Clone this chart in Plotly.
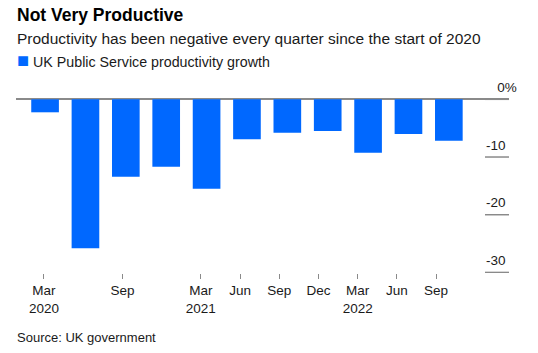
import plotly.graph_objects as go

# ---- data ----
quarters = ["Mar 2020", "Jun 2020", "Sep 2020", "Dec 2020", "Mar 2021", "Jun 2021",
            "Sep 2021", "Dec 2021", "Mar 2022", "Jun 2022", "Sep 2022"]
growth = [-2.25, -25.8, -13.4, -11.7, -15.5, -6.9, -5.8, -5.5, -9.25, -6.0, -7.2]
tick_quarters = ["Mar 2020", "Sep 2020", "Mar 2021", "Jun 2021", "Sep 2021",
                 "Dec 2021", "Mar 2022", "Jun 2022", "Sep 2022"]
tick_labels = ["Mar<br>2020", "Sep", "Mar<br>2021", "Jun", "Sep", "Dec",
               "Mar<br>2022", "Jun", "Sep"]
y_ticks = [0, -10, -20, -30]
y_tick_labels = ["\u00a0\u00a0\u00a00%", "-10", "-20", "-30"]

series_name = "UK Public Service productivity growth"
title = "Not Very Productive"
subtitle = "Productivity has been negative every quarter since the start of 2020"
source = "Source: UK government"

# ---- style ----
W, H = 538, 353
ML, MR, MT, MB = 16, 29, 70, 80
BLUE = "#0068ff"
GREY = "#8a8a8a"
FONT = "Liberation Sans, Arial, sans-serif"
TXT = "#1a1a1a"
Y_RANGE = [-30.1, 5.08]
TICK_LEN = 24

plot_w = W - ML - MR
plot_h = H - MT - MB


def py(p):
    """pixel y from top -> paper y"""
    return (H - MB - p) / plot_h


idx = list(range(len(quarters)))
tickvals = [quarters.index(q) for q in tick_quarters]

fig = go.Figure()
fig.add_trace(go.Bar(x=idx, y=growth, marker=dict(color=BLUE, line=dict(width=0)),
                     name=series_name, showlegend=False, hoverinfo="x+y"))
# helper trace so the overlay axes get drawn
fig.add_trace(go.Scatter(x=idx, y=growth, xaxis="x2", yaxis="y2", mode="markers",
                         marker=dict(opacity=0), showlegend=False, hoverinfo="skip"))

fig.update_layout(
    width=W, height=H,
    margin=dict(l=ML, r=MR, t=MT, b=MB),
    paper_bgcolor="white", plot_bgcolor="rgba(0,0,0,0)",
    font=dict(family=FONT, color=TXT),
    bargap=0.315,
    xaxis=dict(range=[-0.72, 11.49], showticklabels=False, ticks="",
               showgrid=False, zeroline=False, showline=False),
    xaxis2=dict(overlaying="x", anchor="y", side="bottom", range=[-0.714, 11.86],
                tickmode="array", tickvals=tickvals, ticktext=tick_labels,
                ticks="outside", ticklen=5, tickwidth=1, tickcolor=GREY,
                tickfont=dict(size=13.5, color=TXT), showgrid=False,
                zeroline=False, showline=False),
    # main y axis: zero line
    yaxis=dict(side="right", range=Y_RANGE, tickmode="array", tickvals=y_ticks,
               showticklabels=False, ticks="",
               showgrid=False, showline=False,
               zeroline=True, zerolinecolor=GREY, zerolinewidth=1.5),
    # free overlay y axis at the start of the tick marks: labels above them
    yaxis2=dict(overlaying="y", anchor="free", position=1 - TICK_LEN / plot_w,
                side="right", range=Y_RANGE, tickmode="array", tickvals=y_ticks,
                ticktext=y_tick_labels, ticks="", ticklabelshift=-12,
                tickfont=dict(size=13.5, color=TXT),
                showgrid=False, showline=False, zeroline=False),
)

# short tick marks under the right-hand labels, at each y tick value
for v in y_ticks:
    fig.add_shape(type="line", xref="paper", yref="y",
                  x0=1 - TICK_LEN / plot_w, x1=1, y0=v, y1=v,
                  line=dict(color=GREY, width=1.5), layer="above")

ann = [
    dict(text=f"<b>{title}</b>", x=0, y=py(26), yanchor="bottom",
         font=dict(size=17.5, color="#000")),
    dict(text=subtitle, x=0, y=py(48.5), yanchor="bottom",
         font=dict(size=15.5, color=TXT)),
    dict(text=f"<span style='color:{BLUE};font-size:20px'>■</span> {series_name}",
         x=0, y=py(72), yanchor="bottom", font=dict(size=14.25, color=TXT)),
    dict(text=source, x=0, y=py(346), yanchor="bottom",
         font=dict(size=13, color=TXT)),
]
for a in ann:
    a.update(xref="paper", yref="paper", xanchor="left", showarrow=False,
             align="left", borderpad=0)
fig.update_layout(annotations=ann)

fig.write_html("out.html")
